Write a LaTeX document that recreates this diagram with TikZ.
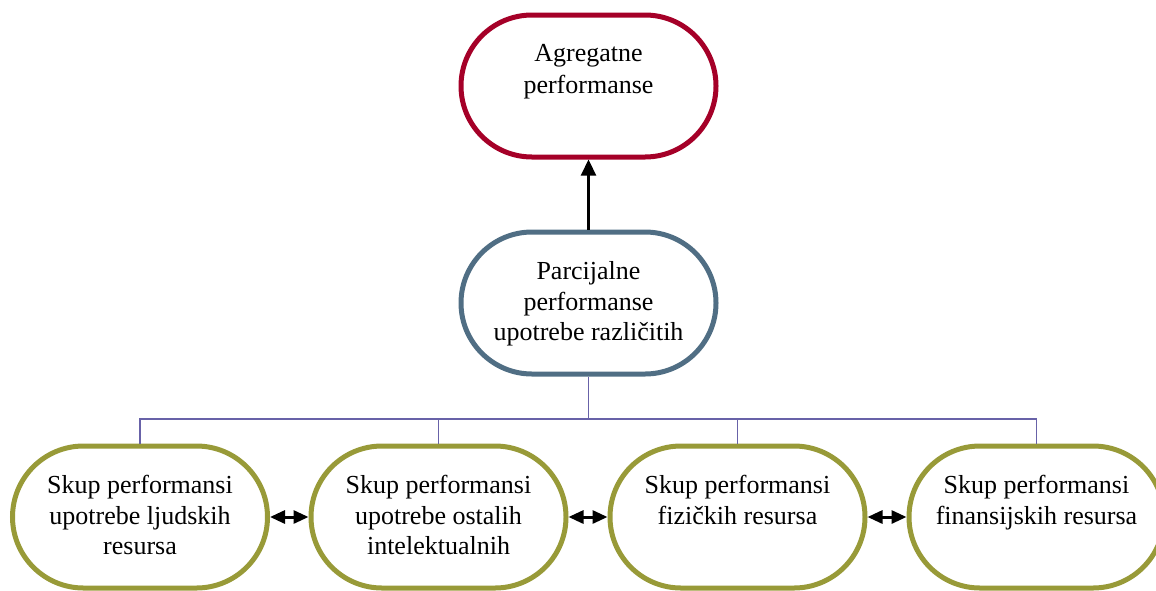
\documentclass[tikz,border=0pt]{standalone}
\usepackage{fontspec}
\setmainfont{Liberation Serif}
\usetikzlibrary{arrows.meta}
\definecolor{aggred}{RGB}{165,0,40}
\definecolor{partblue}{RGB}{80,110,132}
\definecolor{setolive}{RGB}{152,154,56}
\definecolor{busline}{RGB}{104,98,168}

\begin{document}
\begin{tikzpicture}[x=1pt,y=-1pt,
  stadium/.style={draw, line width=5pt, rounded corners=71pt,
    minimum width=255pt, minimum height=142pt, inner sep=0pt, fill=white},
  txt/.style={align=center, inner sep=0pt, outer sep=0pt,
    font=\fontsize{26}{30.5}\selectfont, anchor=north},
  bus/.style={draw=busline, line width=1.5pt},
  updart/.style={draw=black, line width=2.2pt, -{Triangle[length=16pt,width=15pt]}},
  linkart/.style={draw=black, line width=3pt,
    {Triangle[length=15pt,width=13pt]}-{Triangle[length=15pt,width=13pt]}}
]
\useasboundingbox (0,0) rectangle (1156,590);

% upper levels
\node[stadium, draw=aggred]  (agg)  at (588.5,86)  {};
\node[stadium, draw=partblue] (part) at (588.5,303) {};
\node[txt] (aggT)  at ([yshift=-32pt]agg.north)  {Agregatne\\[1.5pt]performanse};
\node[txt] (partT) at ([yshift=-32pt]part.north) {Parcijalne\\performanse\\upotrebe različitih};

% resource sets
\node[stadium, draw=setolive] (s1) at (140,517)    {};
\node[stadium, draw=setolive] (s2) at (438.5,517)  {};
\node[stadium, draw=setolive] (s3) at (737.5,517)  {};
\node[stadium, draw=setolive] (s4) at (1036.5,517) {};
\node[txt] (s1T) at ([yshift=-32pt]s1.north) {Skup performansi\\upotrebe ljudskih\\resursa};
\node[txt] (s2T) at ([yshift=-32pt]s2.north) {Skup performansi\\upotrebe ostalih\\intelektualnih};
\node[txt] (s3T) at ([yshift=-32pt]s3.north) {Skup performansi\\fizičkih resursa};
\node[txt] (s4T) at ([yshift=-32pt]s4.north) {Skup performansi\\finansijskih resursa};

% tree connector
\coordinate (hub) at (588.5,419);
\draw[bus] (part.south) -- (hub);
\draw[bus] (s1.north) |- (hub) -| (s4.north);
\draw[bus] (s2.north) -- (s2.north |- hub);
\draw[bus] (s3.north) -- (s3.north |- hub);

% arrows
\draw[updart] (part.north) -- (agg.south);
\draw[linkart] (s1.east) -- (s2.west);
\draw[linkart] (s2.east) -- (s3.west);
\draw[linkart] (s3.east) -- (s4.west);
\end{tikzpicture}
\end{document}
